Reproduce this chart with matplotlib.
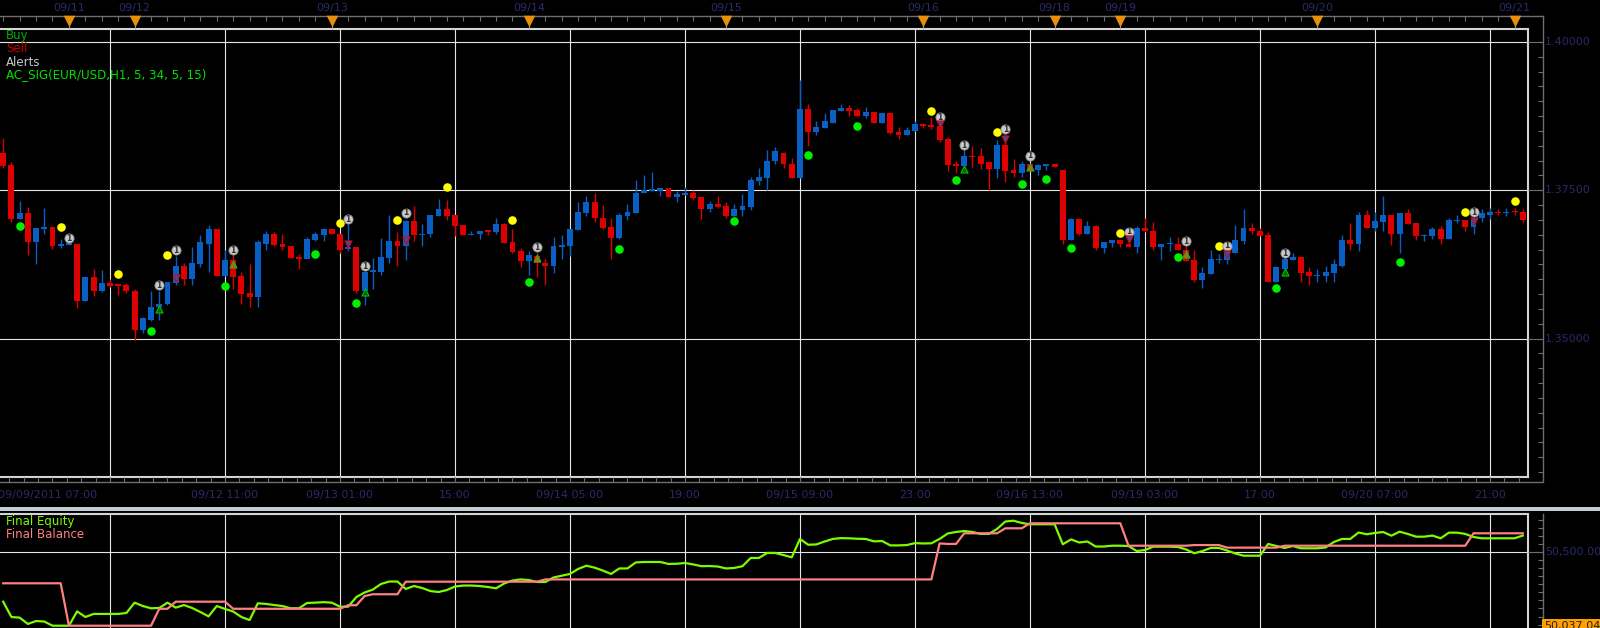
import numpy as np
import matplotlib
matplotlib.use("Agg")
import matplotlib.pyplot as plt
from matplotlib.transforms import blended_transform_factory as blend

# ---------------- data ----------------
opens = [1.3812, 1.3792, 1.3701, 1.3711, 1.3663, 1.3684, 1.3688, 1.3656, 1.3657, 1.3660,
         1.3563, 1.3603, 1.3580, 1.3593, 1.3591, 1.3590, 1.3581, 1.3514, 1.3532, 1.3553,
         1.3558, 1.3593, 1.3623, 1.3600, 1.3625, 1.3660, 1.3684, 1.3605, 1.3632, 1.3605,
         1.3576, 1.3570, 1.3660, 1.3677, 1.3659, 1.3656, 1.3637, 1.3634, 1.3666, 1.3674,
         1.3684, 1.3677, 1.3651, 1.3654, 1.3581, 1.3612, 1.3613, 1.3635, 1.3664, 1.3656,
         1.3698, 1.3674, 1.3676, 1.3706, 1.3718, 1.3708, 1.3691, 1.3674, 1.3676, 1.3682,
         1.3680, 1.3693, 1.3662, 1.3647, 1.3631, 1.3639, 1.3628, 1.3622, 1.3654, 1.3656,
         1.3683, 1.3711, 1.3730, 1.3704, 1.3688, 1.3670, 1.3706, 1.3712, 1.3745, 1.3749,
         1.3749, 1.3753, 1.3739, 1.3742, 1.3746, 1.3738, 1.3718, 1.3726, 1.3723, 1.3706,
         1.3716, 1.3721, 1.3765, 1.3770, 1.3800, 1.3812, 1.3795, 1.3770, 1.3886, 1.3848,
         1.3854, 1.3864, 1.3883, 1.3888, 1.3885, 1.3875, 1.3881, 1.3864, 1.3880, 1.3848,
         1.3843, 1.3849, 1.3861, 1.3859, 1.3858, 1.3836, 1.3794, 1.3790, 1.3807, 1.3807,
         1.3797, 1.3785, 1.3827, 1.3784, 1.3779, 1.3795, 1.3784, 1.3790, 1.3794, 1.3784,
         1.3666, 1.3701, 1.3677, 1.3689, 1.3652, 1.3661, 1.3666, 1.3660, 1.3654, 1.3686,
         1.3682, 1.3654, 1.3659, 1.3660, 1.3650, 1.3632, 1.3598, 1.3608, 1.3632, 1.3632,
         1.3645, 1.3664, 1.3686, 1.3682, 1.3674, 1.3596, 1.3618, 1.3632, 1.3637, 1.3612,
         1.3605, 1.3605, 1.3610, 1.3623, 1.3666, 1.3659, 1.3709, 1.3686, 1.3696, 1.3709,
         1.3677, 1.3711, 1.3694, 1.3672, 1.3672, 1.3684, 1.3667, 1.3698, 1.3699, 1.3688,
         1.3703, 1.3709, 1.3714, 1.3711, 1.3714, 1.3714]
highs = [1.3838, 1.3798, 1.3731, 1.3721, 1.3686, 1.3720, 1.3688, 1.3667, 1.3661, 1.3660,
         1.3603, 1.3618, 1.3615, 1.3600, 1.3591, 1.3593, 1.3583, 1.3536, 1.3581, 1.3581,
         1.3595, 1.3639, 1.3627, 1.3654, 1.3674, 1.3691, 1.3684, 1.3649, 1.3640, 1.3612,
         1.3625, 1.3666, 1.3681, 1.3679, 1.3676, 1.3656, 1.3642, 1.3671, 1.3679, 1.3686,
         1.3684, 1.3677, 1.3693, 1.3654, 1.3613, 1.3635, 1.3669, 1.3708, 1.3679, 1.3700,
         1.3723, 1.3693, 1.3709, 1.3736, 1.3733, 1.3708, 1.3691, 1.3681, 1.3682, 1.3682,
         1.3703, 1.3694, 1.3684, 1.3652, 1.3647, 1.3644, 1.3634, 1.3671, 1.3674, 1.3684,
         1.3730, 1.3740, 1.3745, 1.3725, 1.3703, 1.3711, 1.3726, 1.3768, 1.3775, 1.3780,
         1.3753, 1.3753, 1.3748, 1.3755, 1.3750, 1.3738, 1.3731, 1.3740, 1.3730, 1.3726,
         1.3743, 1.3773, 1.3787, 1.3817, 1.3822, 1.3814, 1.3804, 1.3935, 1.3895, 1.3866,
         1.3880, 1.3885, 1.3895, 1.3893, 1.3888, 1.3891, 1.3881, 1.3880, 1.3880, 1.3856,
         1.3856, 1.3866, 1.3864, 1.3873, 1.3866, 1.3839, 1.3800, 1.3817, 1.3824, 1.3821,
         1.3797, 1.3834, 1.3843, 1.3802, 1.3799, 1.3795, 1.3794, 1.3794, 1.3794, 1.3784,
         1.3704, 1.3703, 1.3698, 1.3691, 1.3662, 1.3666, 1.3666, 1.3674, 1.3689, 1.3703,
         1.3696, 1.3660, 1.3671, 1.3671, 1.3657, 1.3649, 1.3620, 1.3650, 1.3642, 1.3649,
         1.3691, 1.3718, 1.3694, 1.3686, 1.3679, 1.3622, 1.3640, 1.3645, 1.3637, 1.3620,
         1.3618, 1.3622, 1.3634, 1.3674, 1.3694, 1.3714, 1.3716, 1.3713, 1.3741, 1.3709,
         1.3711, 1.3718, 1.3694, 1.3677, 1.3688, 1.3689, 1.3704, 1.3708, 1.3699, 1.3720,
         1.3718, 1.3720, 1.3718, 1.3720, 1.3720, 1.3718]
lows = [1.3787, 1.3696, 1.3701, 1.3640, 1.3625, 1.3676, 1.3651, 1.3653, 1.3657, 1.3551,
        1.3563, 1.3572, 1.3578, 1.3587, 1.3573, 1.3576, 1.3497, 1.3509, 1.3529, 1.3532,
        1.3556, 1.3590, 1.3590, 1.3591, 1.3620, 1.3613, 1.3605, 1.3605, 1.3583, 1.3559,
        1.3554, 1.3554, 1.3650, 1.3656, 1.3649, 1.3635, 1.3618, 1.3634, 1.3664, 1.3664,
        1.3676, 1.3644, 1.3647, 1.3576, 1.3556, 1.3583, 1.3607, 1.3628, 1.3622, 1.3632,
        1.3664, 1.3656, 1.3671, 1.3706, 1.3699, 1.3672, 1.3674, 1.3674, 1.3668, 1.3674,
        1.3676, 1.3661, 1.3644, 1.3621, 1.3607, 1.3604, 1.3590, 1.3610, 1.3634, 1.3639,
        1.3683, 1.3706, 1.3696, 1.3684, 1.3634, 1.3667, 1.3700, 1.3712, 1.3745, 1.3749,
        1.3740, 1.3739, 1.3730, 1.3742, 1.3733, 1.3701, 1.3713, 1.3720, 1.3704, 1.3706,
        1.3706, 1.3716, 1.3758, 1.3751, 1.3795, 1.3787, 1.3770, 1.3770, 1.3824, 1.3843,
        1.3854, 1.3864, 1.3883, 1.3875, 1.3875, 1.3871, 1.3864, 1.3864, 1.3844, 1.3836,
        1.3843, 1.3849, 1.3854, 1.3853, 1.3831, 1.3782, 1.3779, 1.3790, 1.3789, 1.3785,
        1.3751, 1.3770, 1.3763, 1.3772, 1.3773, 1.3784, 1.3775, 1.3784, 1.3789, 1.3660,
        1.3666, 1.3674, 1.3677, 1.3650, 1.3645, 1.3654, 1.3654, 1.3654, 1.3644, 1.3679,
        1.3649, 1.3632, 1.3647, 1.3649, 1.3630, 1.3596, 1.3585, 1.3608, 1.3628, 1.3625,
        1.3645, 1.3660, 1.3677, 1.3672, 1.3596, 1.3596, 1.3612, 1.3632, 1.3595, 1.3591,
        1.3596, 1.3596, 1.3596, 1.3620, 1.3649, 1.3647, 1.3686, 1.3682, 1.3682, 1.3657,
        1.3644, 1.3693, 1.3666, 1.3664, 1.3667, 1.3659, 1.3667, 1.3694, 1.3682, 1.3677,
        1.3696, 1.3701, 1.3709, 1.3706, 1.3708, 1.3696]
closes = [1.3791, 1.3701, 1.3711, 1.3663, 1.3686, 1.3688, 1.3656, 1.3659, 1.3661, 1.3563,
          1.3603, 1.3580, 1.3593, 1.3589, 1.3589, 1.3580, 1.3514, 1.3534, 1.3554, 1.3559,
          1.3595, 1.3623, 1.3600, 1.3627, 1.3662, 1.3684, 1.3605, 1.3632, 1.3603, 1.3575,
          1.3570, 1.3662, 1.3677, 1.3657, 1.3654, 1.3635, 1.3634, 1.3667, 1.3676, 1.3684,
          1.3676, 1.3650, 1.3654, 1.3581, 1.3613, 1.3615, 1.3637, 1.3664, 1.3656, 1.3698,
          1.3674, 1.3677, 1.3708, 1.3718, 1.3706, 1.3690, 1.3674, 1.3677, 1.3682, 1.3680,
          1.3693, 1.3661, 1.3646, 1.3631, 1.3640, 1.3627, 1.3622, 1.3656, 1.3657, 1.3684,
          1.3713, 1.3730, 1.3703, 1.3686, 1.3670, 1.3708, 1.3713, 1.3746, 1.3750, 1.3750,
          1.3753, 1.3739, 1.3743, 1.3746, 1.3737, 1.3718, 1.3726, 1.3722, 1.3706, 1.3718,
          1.3723, 1.3767, 1.3772, 1.3800, 1.3816, 1.3794, 1.3770, 1.3886, 1.3848, 1.3856,
          1.3866, 1.3885, 1.3888, 1.3883, 1.3875, 1.3881, 1.3864, 1.3880, 1.3846, 1.3843,
          1.3851, 1.3861, 1.3858, 1.3857, 1.3834, 1.3792, 1.3791, 1.3807, 1.3806, 1.3795,
          1.3785, 1.3827, 1.3782, 1.3779, 1.3795, 1.3784, 1.3792, 1.3794, 1.3789, 1.3666,
          1.3701, 1.3677, 1.3689, 1.3652, 1.3662, 1.3666, 1.3659, 1.3654, 1.3686, 1.3681,
          1.3654, 1.3659, 1.3660, 1.3649, 1.3630, 1.3598, 1.3610, 1.3634, 1.3634, 1.3647,
          1.3666, 1.3686, 1.3681, 1.3672, 1.3596, 1.3620, 1.3634, 1.3637, 1.3610, 1.3605,
          1.3607, 1.3612, 1.3625, 1.3666, 1.3659, 1.3709, 1.3686, 1.3698, 1.3709, 1.3677,
          1.3711, 1.3693, 1.3672, 1.3674, 1.3684, 1.3667, 1.3699, 1.3699, 1.3688, 1.3704,
          1.3711, 1.3713, 1.3711, 1.3714, 1.3713, 1.3699]

equity = [50192, 50097, 50093, 50054, 50072, 50069, 50043, 50043, 50043, 50132,
          50097, 50116, 50116, 50116, 50116, 50122, 50186, 50165, 50151, 50153,
          50186, 50155, 50171, 50153, 50128, 50101, 50165, 50147, 50131, 50097,
          50078, 50182, 50178, 50171, 50165, 50151, 50151, 50184, 50186, 50189,
          50186, 50161, 50161, 50221, 50249, 50267, 50302, 50317, 50317, 50271,
          50289, 50277, 50258, 50252, 50264, 50286, 50292, 50292, 50289, 50283,
          50275, 50305, 50323, 50330, 50326, 50314, 50314, 50342, 50353, 50364,
          50395, 50415, 50403, 50385, 50364, 50398, 50398, 50435, 50438, 50438,
          50438, 50426, 50427, 50432, 50423, 50412, 50413, 50410, 50398, 50401,
          50412, 50463, 50463, 50494, 50494, 50481, 50467, 50581, 50545, 50547,
          50565, 50581, 50586, 50585, 50582, 50581, 50566, 50568, 50541, 50541,
          50543, 50555, 50553, 50554, 50581, 50615, 50624, 50630, 50624, 50612,
          50612, 50643, 50689, 50694, 50680, 50672, 50672, 50672, 50672, 50548,
          50578, 50559, 50565, 50534, 50534, 50539, 50539, 50537, 50506, 50512,
          50533, 50533, 50533, 50531, 50516, 50492, 50506, 50525, 50525, 50509,
          50491, 50477, 50477, 50477, 50550, 50537, 50525, 50537, 50523, 50523,
          50523, 50528, 50562, 50581, 50581, 50621, 50610, 50618, 50624, 50601,
          50626, 50612, 50595, 50595, 50602, 50585, 50620, 50620, 50612, 50593,
          50585, 50585, 50585, 50585, 50585, 50602]
balance = [50306, 50306, 50306, 50306, 50306, 50306, 50306, 50306, 50043, 50043,
           50043, 50043, 50043, 50043, 50043, 50043, 50043, 50043, 50043, 50148,
           50148, 50192, 50192, 50192, 50192, 50192, 50192, 50192, 50148, 50148,
           50148, 50148, 50148, 50148, 50148, 50148, 50148, 50148, 50148, 50148,
           50148, 50148, 50170, 50170, 50227, 50238, 50238, 50238, 50238, 50316,
           50316, 50316, 50316, 50316, 50316, 50316, 50316, 50316, 50316, 50316,
           50316, 50316, 50316, 50316, 50316, 50316, 50330, 50330, 50330, 50330,
           50330, 50330, 50330, 50330, 50330, 50330, 50330, 50330, 50330, 50330,
           50330, 50330, 50330, 50330, 50330, 50330, 50330, 50330, 50330, 50330,
           50330, 50330, 50330, 50330, 50330, 50330, 50330, 50330, 50330, 50330,
           50330, 50330, 50330, 50330, 50330, 50330, 50330, 50330, 50330, 50330,
           50330, 50330, 50330, 50330, 50553, 50550, 50550, 50616, 50616, 50616,
           50616, 50616, 50647, 50647, 50647, 50678, 50678, 50678, 50678, 50678,
           50678, 50678, 50678, 50678, 50678, 50678, 50678, 50539, 50539, 50539,
           50539, 50539, 50539, 50539, 50539, 50543, 50543, 50543, 50543, 50527,
           50527, 50527, 50527, 50527, 50527, 50527, 50539, 50539, 50539, 50539,
           50539, 50539, 50539, 50539, 50539, 50539, 50539, 50539, 50539, 50539,
           50539, 50539, 50539, 50539, 50539, 50539, 50539, 50539, 50539, 50616,
           50616, 50616, 50616, 50616, 50616, 50616]

alert_bars = [7, 14, 20, 41, 48, 54, 62, 113, 121, 136, 148, 178, 184]
alert_prices = [1.3688, 1.3609, 1.3641, 1.3695, 1.3699, 1.3755, 1.3700, 1.3884, 1.3848,
                1.3678, 1.3656, 1.3714, 1.3731]
buy_bars = [2, 18, 27, 38, 43, 64, 75, 89, 98, 104, 116, 124, 127, 130, 143, 155, 170]
buy_prices = [1.3689, 1.3513, 1.3589, 1.3643, 1.3560, 1.3595, 1.3651, 1.3698, 1.3809,
              1.3859, 1.3767, 1.3761, 1.3769, 1.3653, 1.3637, 1.3586, 1.3629]
ticket_bars = [8, 19, 21, 28, 42, 44, 49, 65, 114, 117, 122, 125, 137, 144, 149, 156, 179]
ticket_prices = [1.3669, 1.3590, 1.3649, 1.3649, 1.3701, 1.3622, 1.3712, 1.3654, 1.3873,
                 1.3826, 1.3853, 1.3808, 1.3680, 1.3664, 1.3656, 1.3644, 1.3713]
arrow_bars = [19, 21, 28, 42, 44, 49, 65, 114, 117, 122, 125, 137, 144, 149, 156, 179]
arrow_prices = [1.3549, 1.3602, 1.3625, 1.3659, 1.3578, 1.3666, 1.3635, 1.3862, 1.3785,
                1.3836, 1.3789, 1.3667, 1.3643, 1.3642, 1.3613, 1.3698]
arrow_kinds = ["up", "down", "close", "down", "up", "down", "close", "down", "up",
               "down", "close", "down", "close", "down", "up", "down"]

day_bars = [8, 16, 40, 64, 88, 112, 128, 136, 160, 184]
day_labels = ["09/11", "09/12", "09/13", "09/14", "09/15", "09/16", "09/18", "09/19",
              "09/20", "09/21"]
time_bars = [27, 41, 55, 69, 83, 97, 111, 125, 139, 153, 167, 181]
time_labels = ["09/12 11:00", "09/13 01:00", "15:00", "09/14 05:00", "19:00",
               "09/15 09:00", "23:00", "09/16 13:00", "09/19 03:00", "17:00",
               "09/20 07:00", "21:00"]
first_label = "09/09/2011 07:00"
price_levels = [1.35, 1.375, 1.40]
price_labels = ["1.35000", "1.37500", "1.40000"]
equity_level = 50500
equity_label = "50,500.00"
last_value_label = "50,037.04"

# ---------------- layout ----------------
W, H = 1600, 628
X0, DX = 3.2, 8.214          # pixel of bar 0, pixels per bar
FRAME_R, TOP, BOT = 1528, 29, 477
AXIS_X = 1543
LOW_TOP, LOW_BOT = 514, 640
NAVY = "#2a2a6c"
GREY = "#6e6e6e"
FRAME = "#d4d4d4"
GRID = "#e6e6e6"
BLUE = "#0a5fc4"
RED = "#dd0000"

plt.rcParams["font.family"] = ["DejaVu Sans"]

fig = plt.figure(figsize=(W / 100, H / 100), dpi=100)
fig.patch.set_facecolor("black")


def rect(l, t, r, b):
    return [l / W, 1 - b / H, (r - l) / W, (b - t) / H]


def px2price(y):
    return 1.40705 - 0.0001685 * y


def px2eq(y):
    return 50500 + (552 - y) * 6.2


xlim = (-X0 / DX, (FRAME_R - X0) / DX)

ax = fig.add_axes(rect(0, TOP, FRAME_R, BOT))
ax.set_facecolor("black")
ax.set_xlim(*xlim)
ax.set_ylim(px2price(BOT), px2price(TOP))

ax2 = fig.add_axes(rect(0, LOW_TOP, FRAME_R, LOW_BOT))
ax2.set_facecolor("black")
ax2.set_xlim(*xlim)
ax2.set_ylim(px2eq(LOW_BOT), px2eq(LOW_TOP))

for a in (ax, ax2):
    a.set_xticks([])
    a.set_yticks([])
    for s in a.spines.values():
        s.set_color(FRAME)
        s.set_linewidth(1.5)
    a.spines["left"].set_visible(False)
ax2.spines["bottom"].set_visible(False)

ov = fig.add_axes([0, 0, 1, 1])
ov.set_xlim(0, W)
ov.set_ylim(H, 0)
ov.axis("off")
ov.set_zorder(10)

# grid
grid_bars = np.arange(13, 186, 14)
for a in (ax, ax2):
    for g in grid_bars:
        a.axvline(g, color=GRID, lw=0.8, zorder=1)
for p in price_levels:
    ax.axhline(p, color=GRID, lw=0.8, zorder=1)
ax2.axhline(equity_level, color=GRID, lw=0.8, zorder=1)

# candles
idx = np.arange(len(opens))
o = np.array(opens)
c = np.array(closes)
up = c >= o
cols = np.where(up, BLUE, RED)
ax.vlines(idx, lows, highs, colors=cols, lw=1.0, zorder=3)
body_bottom = np.minimum(o, c)
body_h = np.maximum(np.abs(c - o), 0.00022)
ax.bar(idx, body_h, 0.72, bottom=body_bottom, color=cols, linewidth=0, zorder=4)

# markers
ax.scatter(alert_bars, alert_prices, s=38, color="#ffff00", zorder=6, linewidths=0)
ax.scatter(buy_bars, buy_prices, s=38, color="#00ee00", zorder=6, linewidths=0)
ax.scatter(ticket_bars, ticket_prices, s=44, color="#c8c8c8", edgecolors="#8a8a8a",
           linewidths=0.6, zorder=6)
for b, p in zip(ticket_bars, ticket_prices):
    ax.text(b, p, "1", fontsize=5.5, color="#303030", ha="center", va="center",
            fontweight="bold", zorder=7)
styles = {"up": ("^", "#006400", "#00c000"),
          "down": ("v", "#3050b0", "#e00000"),
          "close": ("^", "#b07000", "#30a030")}
for kind, (mk, fc, ec) in styles.items():
    bb = [b for b, k in zip(arrow_bars, arrow_kinds) if k == kind]
    pp = [p for p, k in zip(arrow_prices, arrow_kinds) if k == kind]
    ax.scatter(bb, pp, marker=mk, s=26, facecolors=fc, edgecolors=ec, linewidths=0.8,
               zorder=6)

# equity / balance
ax2.plot(idx, equity, color="#7cfc00", lw=1.6, zorder=3)
ax2.plot(idx, balance, color="#ff8080", lw=1.6, zorder=4)

# legends
ov.text(6, 36, "Buy", color="#00b000", fontsize=8.5, va="center")
ov.text(6, 49, "Sell", color="#c80000", fontsize=8.5, va="center")
ov.text(6, 62, "Alerts", color="#c8c8c8", fontsize=8.5, va="center")
ov.text(6, 75, "AC_SIG(EUR/USD,H1, 5, 34, 5, 15)", color="#00e000", fontsize=8.6,
        va="center")
ov.text(6, 522, "Final Equity", color="#7cfc00", fontsize=8.5, va="center")
ov.text(6, 535, "Final Balance", color="#ff8080", fontsize=8.5, va="center")

# top date strip
tb = blend(ax.transData, ov.transData)
ov.plot([0, AXIS_X], [16, 16], color=GREY, lw=1)
ticks_top = np.arange(0, 186, 2)
ov.vlines(ticks_top, 16, 21, color=GREY, lw=0.8, transform=tb)
ov.vlines(day_bars, 22, 29, color="#a0a0a0", lw=0.8, transform=tb)
ov.scatter(day_bars, [21] * len(day_bars), marker="v", s=70, color="#e8900c",
           transform=tb, zorder=11, linewidths=0)
for b, lab in zip(day_bars, day_labels):
    ov.text(b, 8, lab, color=NAVY, fontsize=8, ha="center", va="center", transform=tb)

# right price axis
pr = blend(ov.transData, ax.transData)
ov.plot([AXIS_X, AXIS_X], [16, 481], color=GREY, lw=1)
minor_p = np.arange(1.3275, 1.4021, 0.0025)
ov.hlines(minor_p, AXIS_X - 5, AXIS_X, color=GREY, lw=0.8, transform=pr)
ov.hlines(price_levels, FRAME_R, AXIS_X, color=GREY, lw=0.8, transform=pr)
for p, lab in zip(price_levels, price_labels):
    ov.text(AXIS_X + 2, p, lab, color=NAVY, fontsize=8, ha="left", va="center",
            transform=pr)

# bottom time axis
ov.plot([0, AXIS_X], [482, 482], color=GREY, lw=1)
minor_t = np.arange(13 - 1.75 * 7, 186, 1.75)
ov.vlines(minor_t, 477, 482, color=GREY, lw=0.8, transform=tb)
ov.vlines(grid_bars, BOT, 482, color=GREY, lw=0.8, transform=tb)
ov.text(-2, 495, first_label, color=NAVY, fontsize=8, ha="left", va="center")
for b, lab in zip(time_bars, time_labels):
    ov.text(b, 495, lab, color=NAVY, fontsize=8, ha="center", va="center", transform=tb)

# separator
ov.fill_between([0, W], 506.5, 511, color="#c4ccd4", lw=0)

# lower panel right axis
er = blend(ov.transData, ax2.transData)
ov.plot([AXIS_X, AXIS_X], [LOW_TOP, H], color=GREY, lw=1)
minor_e = np.arange(50000, 50750, 50)
ov.hlines(minor_e, AXIS_X - 5, AXIS_X, color=GREY, lw=0.8, transform=er)
ov.hlines([equity_level], FRAME_R, AXIS_X, color=GREY, lw=0.8, transform=er)
ov.text(AXIS_X + 2, equity_level, equity_label, color=NAVY, fontsize=8, ha="left",
        va="center", transform=er)
ov.text(AXIS_X + 1, 626, last_value_label, color="#202020", fontsize=8, ha="left",
        va="center", bbox=dict(boxstyle="square,pad=0.15", fc="#ffa000", ec="none"))

fig.savefig("out.png", dpi=100, facecolor="black")
